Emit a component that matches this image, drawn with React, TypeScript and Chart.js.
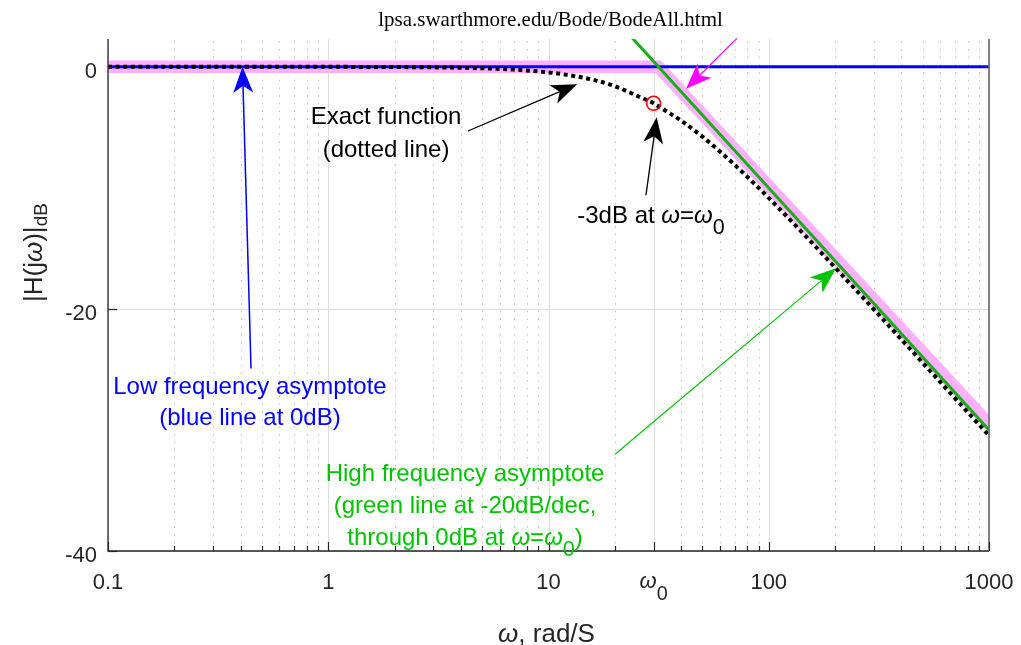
import React, { useEffect, useRef } from "react";
import { Chart, registerables } from "chart.js";

Chart.register(...registerables);

// ---------- data ----------
const TITLE = "lpsa.swarthmore.edu/Bode/BodeAll.html";

const X_MIN = 0.1;
const X_MAX = 1000;
const Y_MIN = -40;
const Y_MAX = 2.3;

const X_TICKS = [0.1, 1, 10, 100, 1000];
const X_TICK_LABELS = ["0.1", "1", "10", "100", "1000"];
const OMEGA0 = 30;
const X_MINOR = [
  0.2, 0.3, 0.4, 0.5, 0.6, 0.7, 0.8, 0.9,
  2, 3, 4, 5, 6, 7, 8, 9,
  20, 40, 50, 60, 70, 80, 90,
  200, 300, 400, 500, 600, 700, 800, 900,
];
const Y_TICKS = [0, -20, -40];
const Y_TICK_LABELS = ["0", "-20", "-40"];

// exact magnitude (dotted black)
const EXACT_FREQ = [0.1, 1, 2, 3, 5, 7, 10, 13, 16, 20, 25, 30, 35, 40, 50, 60, 70, 80, 100, 150, 200, 300, 500, 700, 1000];
const EXACT_GAIN = [0, 0, -0.02, -0.04, -0.12, -0.23, -0.46, -0.75, -1.07, -1.6, -2.36, -3.01, -3.77, -4.44, -5.77, -6.99, -8.09, -9.09, -10.83, -14.15, -16.58, -20.04, -24.45, -27.37, -30.46];

// low frequency asymptote (blue)
const LOW_FREQ = [0.1, 1000];
const LOW_GAIN = [0, 0];

// high frequency asymptote (green)
const HIGH_FREQ = [20, 1000];
const HIGH_GAIN = [3.97, -30.0];

// piecewise asymptotic approximation (thick magenta band)
const ASYM_FREQ = [0.1, 31.5, 1000];
const ASYM_GAIN = [0, 0, -29.5];

// -3 dB marker
const MARK_FREQ = [30];
const MARK_GAIN = [-3.01];

// ---------- annotation text / arrows (data coordinates) ----------
type Seg = { t: string; it?: boolean; sub?: boolean };

const NOTES: { x: number; y: number; color: string; lines: Seg[][]; spacing: number }[] = [
  {
    x: 0.441, y: -27.0, color: "#0000ff", spacing: 31,
    lines: [[{ t: "Low frequency asymptote" }], [{ t: "(blue line at 0dB)" }]],
  },
  {
    x: 1.83, y: -4.76, color: "#000000", spacing: 32.5,
    lines: [[{ t: "Exact function" }], [{ t: "(dotted line)" }]],
  },
  {
    x: 29.2, y: -12.9, color: "#000000", spacing: 32,
    lines: [[{ t: "-3dB at " }, { t: "ω", it: true }, { t: "=" }, { t: "ω", it: true }, { t: "0", sub: true }]],
  },
  {
    x: 4.18, y: -34.2, color: "#00c400", spacing: 32,
    lines: [
      [{ t: "High frequency asymptote" }],
      [{ t: "(green line at -20dB/dec," }],
      [{ t: "through 0dB at " }, { t: "ω", it: true }, { t: "=" }, { t: "ω", it: true }, { t: "0", sub: true }, { t: ")" }],
    ],
  },
];

const ARROWS: { x1: number; y1: number; x2: number; y2: number; color: string; width: number }[] = [
  { x1: 0.446, y1: -24.93, x2: 0.408, y2: 0, color: "#0000ff", width: 1.5 },
  { x1: 4.31, y1: -5.3, x2: 13.5, y2: -1.43, color: "#000000", width: 1.3 },
  { x1: 27.7, y1: -10.6, x2: 31.0, y2: -4.17, color: "#000000", width: 1.3 },
  { x1: 20.05, y1: -32.0, x2: 202, y2: -16.65, color: "#00c400", width: 1.2 },
  { x1: 71.7, y1: 2.35, x2: 42.1, y2: -1.82, color: "#ff00ff", width: 1.2 },
];

const SANS = "'Liberation Sans', Arial, Helvetica, sans-serif";
const SERIF = "'Liberation Serif', 'Times New Roman', serif";
const AXIS_COLOR = "#262626";

function pts(xs: number[], ys: number[]) {
  return xs.map((x, i) => ({ x, y: ys[i] }));
}

function drawRich(
  ctx: CanvasRenderingContext2D,
  segs: Seg[],
  x: number,
  y: number,
  size: number,
  color: string,
  align: "center" | "left",
  subDrop: number
) {
  const fontFor = (s: Seg) => `${s.it ? "italic " : ""}${s.sub ? size * 0.9 : size}px ${SANS}`;
  let w = 0;
  for (const s of segs) {
    ctx.font = fontFor(s);
    w += ctx.measureText(s.t).width;
  }
  let cx = align === "center" ? x - w / 2 : x;
  ctx.fillStyle = color;
  ctx.textAlign = "left";
  ctx.textBaseline = "alphabetic";
  for (const s of segs) {
    ctx.font = fontFor(s);
    ctx.fillText(s.t, cx, y + (s.sub ? subDrop : 0));
    cx += ctx.measureText(s.t).width;
  }
}

function drawArrow(
  ctx: CanvasRenderingContext2D,
  x1: number, y1: number, x2: number, y2: number,
  color: string, lw: number
) {
  const L = 26, W = 10, N = 7;
  const ang = Math.atan2(y2 - y1, x2 - x1);
  const c = Math.cos(ang), s = Math.sin(ang);
  const px = -s, py = c;
  const bx = x2 - c * L, by = y2 - s * L;
  const nx = x2 - c * (L - N), ny = y2 - s * (L - N);
  ctx.strokeStyle = color;
  ctx.fillStyle = color;
  ctx.lineWidth = lw;
  ctx.beginPath();
  ctx.moveTo(x1, y1);
  ctx.lineTo(nx, ny);
  ctx.stroke();
  ctx.beginPath();
  ctx.moveTo(x2, y2);
  ctx.lineTo(bx + px * W, by + py * W);
  ctx.lineTo(nx, ny);
  ctx.lineTo(bx - px * W, by - py * W);
  ctx.closePath();
  ctx.fill();
}

const bodePlugin = {
  id: "bodeDecor",
  beforeDatasetsDraw(chart: any) {
    const { ctx, chartArea: a, scales } = chart;
    const x = scales.x, y = scales.y;
    ctx.save();
    // minor dotted grid
    ctx.strokeStyle = "rgba(0,0,0,0.24)";
    ctx.lineWidth = 1;
    ctx.setLineDash([1.5, 6.2]);
    for (const v of X_MINOR) {
      const p = Math.round(x.getPixelForValue(v)) + 0.5;
      ctx.beginPath();
      ctx.moveTo(p, a.bottom);
      ctx.lineTo(p, a.top);
      ctx.stroke();
    }
    ctx.setLineDash([]);
    // major grid
    ctx.strokeStyle = "#dedede";
    for (const v of [...X_TICKS, OMEGA0]) {
      const p = Math.round(x.getPixelForValue(v)) + 0.5;
      ctx.beginPath();
      ctx.moveTo(p, a.bottom);
      ctx.lineTo(p, a.top);
      ctx.stroke();
    }
    for (const v of Y_TICKS) {
      const p = Math.round(y.getPixelForValue(v)) + 0.5;
      ctx.beginPath();
      ctx.moveTo(a.left, p);
      ctx.lineTo(a.right, p);
      ctx.stroke();
    }
    ctx.restore();
  },
  afterDatasetsDraw(chart: any) {
    const { ctx, chartArea: a, scales } = chart;
    const x = scales.x, y = scales.y;
    ctx.save();

    // axes
    ctx.strokeStyle = AXIS_COLOR;
    ctx.lineWidth = 1.3;
    ctx.beginPath();
    ctx.moveTo(a.left, a.top);
    ctx.lineTo(a.left, a.bottom);
    ctx.lineTo(a.right, a.bottom);
    ctx.stroke();
    ctx.strokeStyle = "#666666";
    ctx.lineWidth = 1.6;
    ctx.beginPath();
    ctx.moveTo(a.right, a.top);
    ctx.lineTo(a.right, a.bottom);
    ctx.stroke();

    // ticks (inward)
    ctx.strokeStyle = AXIS_COLOR;
    ctx.lineWidth = 1.2;
    for (const v of [...X_TICKS, OMEGA0]) {
      const p = Math.round(x.getPixelForValue(v)) + 0.5;
      ctx.beginPath();
      ctx.moveTo(p, a.bottom);
      ctx.lineTo(p, a.bottom - 9);
      ctx.stroke();
    }
    for (const v of X_MINOR) {
      const p = Math.round(x.getPixelForValue(v)) + 0.5;
      ctx.beginPath();
      ctx.moveTo(p, a.bottom);
      ctx.lineTo(p, a.bottom - 5);
      ctx.stroke();
    }
    for (const v of Y_TICKS) {
      const p = Math.round(y.getPixelForValue(v)) + 0.5;
      ctx.beginPath();
      ctx.moveTo(a.left, p);
      ctx.lineTo(a.left + 9, p);
      ctx.stroke();
    }

    // tick labels
    ctx.fillStyle = AXIS_COLOR;
    ctx.font = `22px ${SANS}`;
    ctx.textBaseline = "alphabetic";
    ctx.textAlign = "center";
    X_TICKS.forEach((v, i) => {
      ctx.fillText(X_TICK_LABELS[i], x.getPixelForValue(v), a.bottom + 38);
    });
    drawRich(ctx, [{ t: "ω", it: true }, { t: "0", sub: true }], x.getPixelForValue(OMEGA0), a.bottom + 37, 22, AXIS_COLOR, "center", 12);
    ctx.font = `22px ${SANS}`;
    ctx.fillStyle = AXIS_COLOR;
    ctx.textAlign = "right";
    Y_TICKS.forEach((v, i) => {
      ctx.fillText(Y_TICK_LABELS[i], a.left - 11, y.getPixelForValue(v) + 10.8);
    });

    // axis titles
    drawRich(ctx, [{ t: "ω", it: true }, { t: ", rad/S" }], (a.left + a.right) / 2 - 2, a.bottom + 91, 26, AXIS_COLOR, "center", 0);
    ctx.save();
    ctx.translate(42, 302);
    ctx.rotate(-Math.PI / 2);
    drawRich(ctx, [{ t: "|H(j" }, { t: "ω", it: true }, { t: ")|" }], 0, 0, 26, AXIS_COLOR, "left", 0);
    ctx.font = `26px ${SANS}`;
    let w = ctx.measureText("|H(j").width + ctx.measureText(")|").width;
    ctx.font = `italic 26px ${SANS}`;
    w += ctx.measureText("ω").width;
    ctx.font = `19px ${SANS}`;
    ctx.fillStyle = AXIS_COLOR;
    ctx.textAlign = "left";
    ctx.fillText("dB", w, 5);
    ctx.restore();

    // title
    ctx.fillStyle = "#000000";
    ctx.font = `21px ${SERIF}`;
    ctx.textAlign = "center";
    ctx.textBaseline = "alphabetic";
    ctx.fillText(TITLE, (a.left + a.right) / 2 + 2, 26);

    // annotations
    for (const ar of ARROWS) {
      drawArrow(ctx, x.getPixelForValue(ar.x1), y.getPixelForValue(ar.y1), x.getPixelForValue(ar.x2), y.getPixelForValue(ar.y2), ar.color, ar.width);
    }
    for (const n of NOTES) {
      const cx = x.getPixelForValue(n.x);
      const cy = y.getPixelForValue(n.y);
      n.lines.forEach((ln, i) => {
        drawRich(ctx, ln, cx, cy + i * n.spacing, 24, n.color, "center", 11);
      });
    }
    ctx.restore();
  },
};

export default function App() {
  const ref = useRef<HTMLCanvasElement | null>(null);
  useEffect(() => {
    if (!ref.current) return;
    const chart = new Chart(ref.current, {
      type: "line",
      data: {
        datasets: [
          {
            label: "-3dB point",
            data: pts(MARK_FREQ, MARK_GAIN),
            showLine: false,
            pointRadius: 7,
            pointBorderColor: "#ff0000",
            pointBackgroundColor: "rgba(0,0,0,0)",
            pointBorderWidth: 1.6,
            order: 0,
          },
          {
            label: "Exact function",
            data: pts(EXACT_FREQ, EXACT_GAIN),
            borderColor: "#000000",
            borderWidth: 4,
            borderDash: [4, 3.6],
            borderCapStyle: "butt",
            pointRadius: 0,
            cubicInterpolationMode: "monotone",
            fill: false,
            order: 1,
          },
          {
            label: "High frequency asymptote",
            data: pts(HIGH_FREQ, HIGH_GAIN),
            borderColor: "#14b014",
            borderWidth: 3,
            pointRadius: 0,
            fill: false,
            clip: 0,
            order: 2,
          },
          {
            label: "Low frequency asymptote",
            data: pts(LOW_FREQ, LOW_GAIN),
            borderColor: "#0000ff",
            borderWidth: 3,
            pointRadius: 0,
            fill: false,
            order: 3,
          },
          {
            label: "Asymptotic approximation",
            data: pts(ASYM_FREQ, ASYM_GAIN),
            borderColor: "#ffb0ff",
            borderWidth: 12.5,
            borderJoinStyle: "miter",
            borderCapStyle: "butt",
            pointRadius: 0,
            fill: false,
            clip: 0,
            order: 4,
          },
        ] as any,
      },
      options: {
        responsive: false,
        animation: false,
        events: [],
        layout: { padding: { left: 108, right: 32, top: 39, bottom: 94 } },
        scales: {
          x: { type: "logarithmic", min: X_MIN, max: X_MAX, display: false },
          y: { type: "linear", min: Y_MIN, max: Y_MAX, display: false },
        },
        plugins: {
          legend: { display: false },
          tooltip: { enabled: false },
          title: { display: false },
        },
      },
      plugins: [bodePlugin],
    });
    return () => chart.destroy();
  }, []);

  return (
    <div style={{ position: "absolute", left: 0, top: 0, width: 1021, height: 645, background: "#ffffff" }}>
      <canvas ref={ref} width={1021} height={645} style={{ display: "block" }} />
    </div>
  );
}
